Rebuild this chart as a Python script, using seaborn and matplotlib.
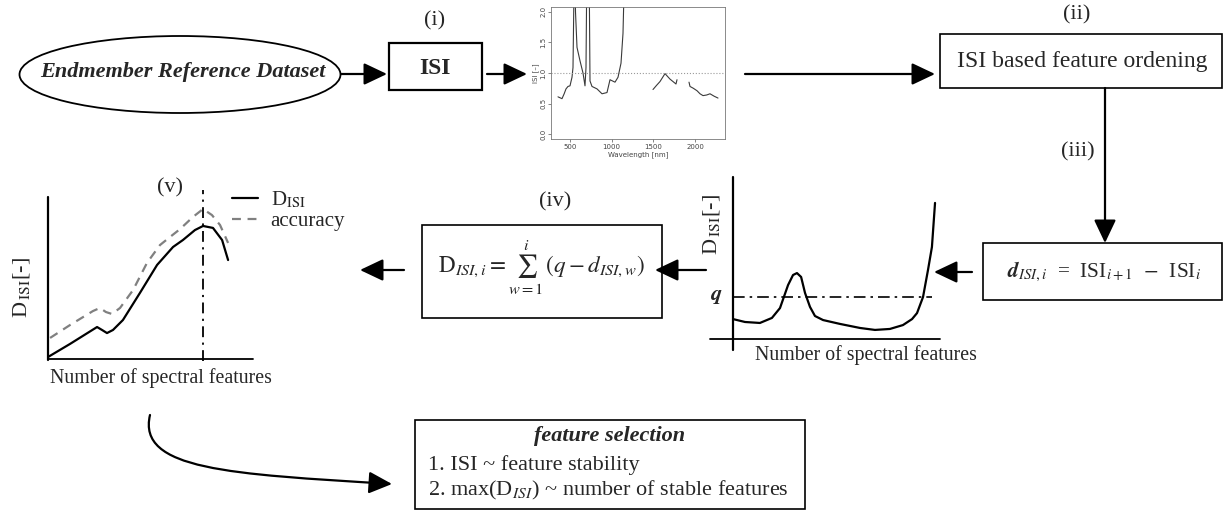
import numpy as np
import pandas as pd
import matplotlib
matplotlib.use("Agg")
import matplotlib.pyplot as plt
import seaborn as sns
from matplotlib.patches import Ellipse, Rectangle, FancyArrowPatch
from matplotlib.path import Path

# ---------------- data ----------------
# (i) ISI spectrum inset: wavelength [nm], ISI [-], segment id
isi_wl = [356, 404, 430, 452, 476, 500, 524, 536, 554, 566, 584, 620, 656, 680, 692, 704,
          728, 740, 764, 824, 884, 944, 980, 1010, 1040, 1076, 1112, 1136, 1160,
          1496, 1540, 1580, 1640, 1700, 1772, 1784,
          1928, 1940, 1980, 2024, 2060, 2096, 2140, 2180, 2230, 2276]
isi_val = [0.61, 0.58, 0.66, 0.74, 0.78, 0.79, 0.93, 1.09, 3.0, 2.0, 1.42, 1.20, 1.00, 0.79, 1.09, 3.0,
           3.0, 0.87, 0.78, 0.74, 0.66, 0.68, 0.89, 0.87, 0.85, 0.93, 1.16, 1.65, 3.0,
           0.73, 0.80, 0.86, 0.99, 0.90, 0.82, 0.89,
           0.85, 0.78, 0.75, 0.71, 0.66, 0.63, 0.64, 0.66, 0.62, 0.59]
isi_seg = [1] * 29 + [2] * 7 + [3] * 10
isi_xticks = [500, 1000, 1500, 2000]
isi_yticks = [0.0, 0.5, 1.0, 1.5, 2.0]

# (iii) D_ISI vs number of spectral features (schematic)
d_x = [0, 5.8, 13.0, 18.8, 22.7, 26.6, 29.0, 30.9, 32.9, 34.8, 37.2, 39.6, 43.5, 51.7,
       61.4, 68.6, 75.8, 82.1, 86.5, 88.9, 91.8, 94.2, 96.1, 97.6]
d_y = [12.3, 10.5, 9.9, 13.0, 19.1, 33.3, 39.5, 40.7, 38.3, 28.4, 19.8, 14.2, 11.7, 9.3,
       6.8, 5.6, 6.2, 8.6, 12.3, 16.0, 25.9, 42.6, 56.8, 84.0]
q_level = 25.9
q_extent = 96

# (v) cumulative D_ISI and accuracy (schematic)
v_x = [0, 10.6, 23.7, 26.1, 28.5, 31.4, 36.2, 44.4, 52.7, 60.4, 65.2, 71.0, 74.9, 79.7, 84.1, 87.0]
v_disi = [0.6, 8.6, 19.0, 17.2, 15.3, 17.2, 23.3, 39.9, 57.1, 68.1, 72.4, 78.5, 81.0, 79.8, 72.4, 60.1]
acc_x = [1, 10.6, 21.7, 25.1, 28.0, 30.9, 34.8, 41.1, 47.8, 54.1, 58.9, 63.8, 70.0, 74.9, 79.2, 83.1, 87.0]
acc_y = [12.3, 20.2, 28.8, 30.7, 28.2, 27.0, 30.7, 41.7, 58.3, 69.3, 74.2, 79.1, 86.5, 91.4, 87.7, 81.6, 70.6]

# ---------------- style ----------------
sns.set_theme(style="white")
plt.rcParams["font.family"] = ["Liberation Serif", "DejaVu Serif"]
plt.rcParams["mathtext.fontset"] = "stix"

W, H = 1229, 511
fig = plt.figure(figsize=(W / 100, H / 100), dpi=100)
fig.patch.set_facecolor("white")

ax = fig.add_axes([0, 0, 1, 1])
ax.set_xlim(0, W)
ax.set_ylim(H, 0)
ax.axis("off")

def fax(x0, x1, y0, y1):
    return fig.add_axes([x0 / W, (H - y1) / H, (x1 - x0) / W, (y1 - y0) / H])

def arrow(p0, p1, lw=1.6):
    a = FancyArrowPatch(p0, p1, arrowstyle="-|>,head_length=0.95,head_width=0.45",
                        mutation_scale=15, lw=lw, color="black", shrinkA=0, shrinkB=0)
    ax.add_patch(a)

def box(x0, y0, x1, y1, lw=1.2):
    ax.add_patch(Rectangle((x0, y0), x1 - x0, y1 - y0, fill=False, lw=lw, ec="black"))

# ellipse
ax.add_patch(Ellipse((180, 74.5), 321, 77, fill=False, lw=1.3, ec="black"))
ax.text(183, 72, "Endmember Reference Dataset", fontsize=16, fontweight="bold",
        fontstyle="italic", ha="center", va="center")
arrow((341, 74), (387, 74))

# ISI box
box(389, 43, 482, 90, lw=1.6)
ax.text(435, 69, "ISI", fontsize=17, fontweight="bold", ha="center", va="center")
ax.text(435, 21, "(i)", fontsize=16, ha="center", va="center")
arrow((487, 74), (527, 74))

# ISI spectrum inset
ia = fax(551, 725, 7, 139)
df_isi = pd.DataFrame({"wl": isi_wl, "isi": isi_val, "seg": isi_seg})
sns.lineplot(data=df_isi, x="wl", y="isi", units="seg", estimator=None, sort=False,
             color="#3a3a3a", lw=0.8, ax=ia)
ia.axhline(1.0, color="#9a9a9a", ls=":", lw=0.8)
ia.set_xlim(272, 2360)
ia.set_ylim(-0.08, 2.08)
ia.set_xticks(isi_xticks)
ia.set_yticks(isi_yticks)
ia.set_xticklabels([str(t) for t in isi_xticks], fontsize=5, color="#444444",
                   family="DejaVu Sans")
ia.set_yticklabels([f"{t:.1f}" for t in isi_yticks], fontsize=5, color="#444444",
                   rotation=90, va="center", family="DejaVu Sans")
ia.tick_params(length=2, width=0.5, color="#555555", pad=1.5, bottom=True, left=True)
ia.set_xlabel("Wavelength [nm]", fontsize=5, color="#444444", labelpad=1,
              family="DejaVu Sans")
ia.set_ylabel("ISI [\u2013]", fontsize=5, color="#444444", labelpad=1,
              family="DejaVu Sans")
for s in ia.spines.values():
    s.set_color("#777777")
    s.set_linewidth(0.6)
ia.set_facecolor("white")

arrow((745, 74), (935, 74))

# (ii)
ax.text(1077, 15, "(ii)", fontsize=16, ha="center", va="center")
box(940, 34, 1222, 88)
ax.text(1082, 62, "ISI based feature ordening", fontsize=17, ha="center", va="center")
arrow((1105, 88), (1105, 243))
ax.text(1078, 152, "(iii)", fontsize=16, ha="center", va="center")

# d box
box(983, 243, 1222, 300)
ax.text(1104, 272, r"$\mathbfit{d}_{ISI,i}$  =  ISI$_{i+1}$  $-$  ISI$_{i}$",
        fontsize=15.3, ha="center", va="center")
arrow((972, 272), (934, 272))

# (iii) plot
ax.plot([733, 733], [177, 350], color="black", lw=1.6)
ax.plot([710, 940], [339, 339], color="black", lw=1.3)
da = fax(733, 940, 177, 339)
da.axis("off")
sns.lineplot(x=d_x, y=d_y, sort=False, estimator=None, color="black", lw=1.6, ax=da)
da.plot([0, q_extent], [q_level, q_level], color="black", lw=1.2, ls=(0, (7, 3, 1.5, 3)))
da.set_xlim(0, 100)
da.set_ylim(0, 100)
ax.text(716, 297, r"$\mathbfit{q}$", fontsize=16, ha="center", va="center")
ax.text(712, 225, r"D$_{\,\mathrm{ISI}}$[-]", fontsize=16, rotation=90, ha="center", va="center")
ax.text(755, 355, "Number of spectral features", fontsize=14.3, ha="left", va="center")

# (iv) formula box
arrow((706, 270), (655, 270))
ax.text(555, 202, "(iv)", fontsize=16, ha="center", va="center")
box(422, 225, 662, 318)
ax.text(541, 268, r"$\mathrm{D}_{ISI,i} = \sum_{w=1}^{i}\,(q - d_{ISI,w})$",
        fontsize=16.7, ha="center", va="center")
arrow((404, 270), (360, 270))

# (v) plot
ax.plot([48, 48], [197, 360], color="black", lw=1.6)
ax.plot([48, 253], [359, 359], color="black", lw=1.3)
va = fax(48, 255, 195, 358)
va.axis("off")
sns.lineplot(x=v_x, y=v_disi, sort=False, estimator=None, color="black", lw=1.6, ax=va,
             label=r"D$_{\mathrm{ISI}}$")
sns.lineplot(x=acc_x, y=acc_y, sort=False, estimator=None, color="#808080", lw=1.6,
             ls=(0, (4, 3)), ax=va, label="accuracy")
va.axvline(v_x[int(np.argmax(v_disi))], ymin=-0.02, ymax=1.03, color="black", lw=1.3,
           ls=(0, (6, 3, 1.2, 3)), clip_on=False)
va.set_xlim(0, 100)
va.set_ylim(0, 100)
va.legend(loc="upper left", bbox_to_anchor=(232 / W, 1 - 190 / H),
          bbox_transform=fig.transFigure, frameon=False, fontsize=15,
          handlelength=1.25, handletextpad=0.6, labelspacing=0.05, borderpad=0,
          borderaxespad=0)
ax.text(170, 188, "(v)", fontsize=16, ha="center", va="center")
ax.text(22, 288, r"D$_{\,\mathrm{ISI}}$[-]", fontsize=16, rotation=90, ha="center", va="center")
ax.text(50, 378, "Number of spectral features", fontsize=14.3, ha="left", va="center")

# curved arrow to feature selection
path = Path([(150, 415), (137, 470), (230, 474), (392, 484)],
            [Path.MOVETO, Path.CURVE4, Path.CURVE4, Path.CURVE4])
ax.add_patch(FancyArrowPatch(path=path, arrowstyle="-|>,head_length=0.95,head_width=0.45",
                             mutation_scale=15, lw=1.6, color="black"))

# feature selection box
box(415, 420, 805, 509)
ax.text(610, 436, "feature selection", fontsize=16, fontweight="bold", fontstyle="italic",
        ha="center", va="center")
ax.text(428, 465, "1. ISI ~ feature stability", fontsize=16, ha="left", va="center")
ax.text(428, 490, r"2. max(D$_{ISI}$) ~ number of stable features", fontsize=16,
        ha="left", va="center")

fig.savefig("out.png", dpi=100, facecolor="white")
